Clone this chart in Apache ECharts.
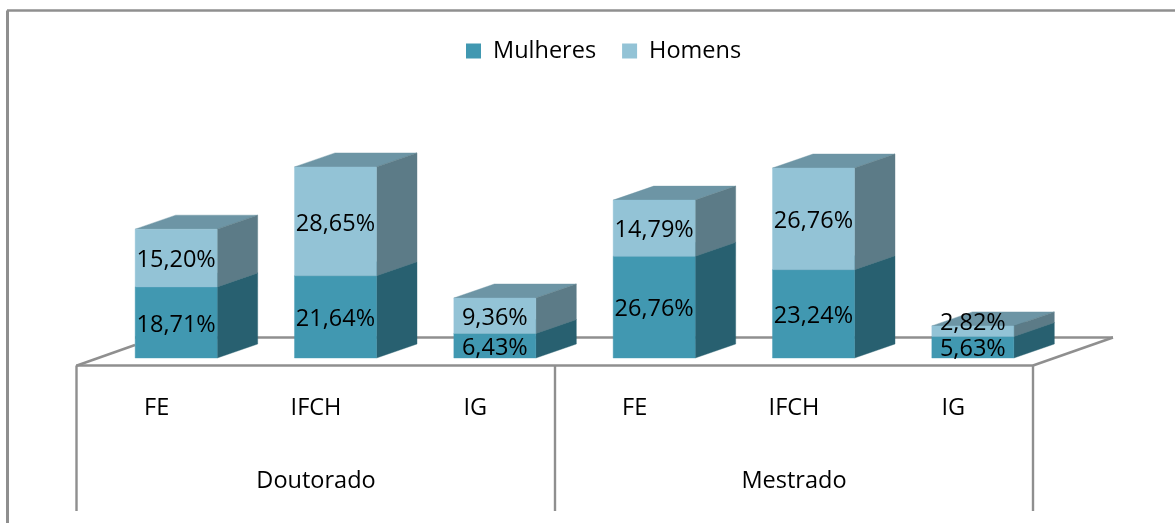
<!DOCTYPE html>
<html><head><meta charset="utf-8">
<style>html,body{margin:0;padding:0;background:#fff}#c{width:1175px;height:523px}</style>
<script src="https://cdn.jsdelivr.net/npm/echarts@6/dist/echarts.min.js"></script>
</head><body><div id="c"></div>
<script>
const subCategories = ['FE','IFCH','IG','FE','IFCH','IG'];
const groupCategories = ['Doutorado','Mestrado'];
const mulheres = [18.71,21.64,6.43,26.76,23.24,5.63];
const homens = [15.20,28.65,9.36,14.79,26.76,2.82];
const FONT = '"Open Sans"';
const DX = 40.5, DY = 14, BAR = 0.5147, SHIFT = 0.1224;
const fmt = v => v.toFixed(2).replace('.', ',') + '%';

function box(values, baseValues, colors, name) {
  return {
    name, type: 'custom', coordinateSystem: 'cartesian2d', xAxisIndex: 0, yAxisIndex: 0,
    itemStyle: { color: colors.front },
    encode: { x: 0, y: 1 },
    data: values.map((v, i) => [i, v, baseValues ? baseValues[i] : 0]),
    renderItem(params, api) {
      const i = api.value(0), v = api.value(1), b = api.value(2);
      const band = api.size([1, 0])[0];
      const bot = api.coord([i, b]), top = api.coord([i, b + v]);
      const xl = bot[0] + band * (SHIFT - BAR / 2), xr = bot[0] + band * (SHIFT + BAR / 2);
      const y0 = bot[1], y1 = top[1];
      const poly = (pts, fill) => ({ type: 'polygon', shape: { points: pts }, style: { fill, stroke: fill, lineWidth: 0.4 } });
      let ly = (y0 + y1) / 2;
      if (b > 0) {
        const lowerTop = api.coord([i, b]);
        const lowerCenter = (api.coord([i, 0])[1] + lowerTop[1]) / 2;
        ly = Math.min(ly, lowerCenter - 26);
      }
      return { type: 'group', children: [
        poly([[xl, y1], [xr, y1], [xr + DX, y1 - DY], [xl + DX, y1 - DY]], colors.top),
        poly([[xr, y0], [xr + DX, y0 - DY], [xr + DX, y1 - DY], [xr, y1]], colors.side),
        poly([[xl, y0], [xr, y0], [xr, y1], [xl, y1]], colors.front),
        { type: 'text', z2: 10, style: { text: fmt(v), x: (xl + xr) / 2, y: ly + 2.5, align: 'center', verticalAlign: 'middle',
          fill: '#000', font: '23.5px ' + FONT } }
      ]};
    }
  };
}
const line = (x1, y1, x2, y2, w) => ({ type: 'line', z: -1, shape: { x1, y1, x2, y2 }, style: { stroke: '#8f8f8f', lineWidth: w || 2.4 } });

const chart = echarts.init(document.getElementById('c'), null, { renderer: 'canvas' });
chart.setOption({
  animation: false,
  backgroundColor: '#fff',
  textStyle: { fontFamily: FONT },
  legend: { top: 34, left: 461, icon: 'rect', itemWidth: 15, itemHeight: 15, itemGap: 26,
    data: ['Mulheres','Homens'], textStyle: { fontSize: 23.5, color: '#000', fontFamily: FONT, padding: [0,0,0,7] } },
  grid: { left: 77, width: 956, top: 130, height: 228 },
  xAxis: [
    { type: 'category', data: subCategories, position: 'bottom',
      axisLine: { show: false }, axisTick: { show: false },
      axisLabel: { interval: 0, margin: 38, fontSize: 23.5, color: '#000', fontFamily: FONT } },
    { type: 'category', data: groupCategories, position: 'bottom',
      axisLine: { show: false }, axisTick: { show: false },
      axisLabel: { interval: 0, margin: 111, fontSize: 23.5, color: '#000', fontFamily: FONT } }
  ],
  yAxis: { type: 'value', min: 0, max: 60, show: false },
  graphic: [
    line(7.5, 523, 7.5, 10.5, 3), line(7, 10.5, 1175, 10.5),
    line(76, 365.5, 1033, 365.5), line(77, 365.5, 135, 345),
    line(135, 337.5, 1113, 337.5), line(1033, 365.5, 1113, 337.5),
    line(76.5, 365.5, 76.5, 511), line(555, 365.5, 555, 511), line(1033, 365.5, 1033, 511)
  ],
  series: [
    box(mulheres, null, { front: '#4198b1', side: '#286070', top: '#2f7488' }, 'Mulheres'),
    box(homens, mulheres, { front: '#93c3d6', side: '#5c7b87', top: '#6d95a5' }, 'Homens')
  ]
});
</script></body></html>
